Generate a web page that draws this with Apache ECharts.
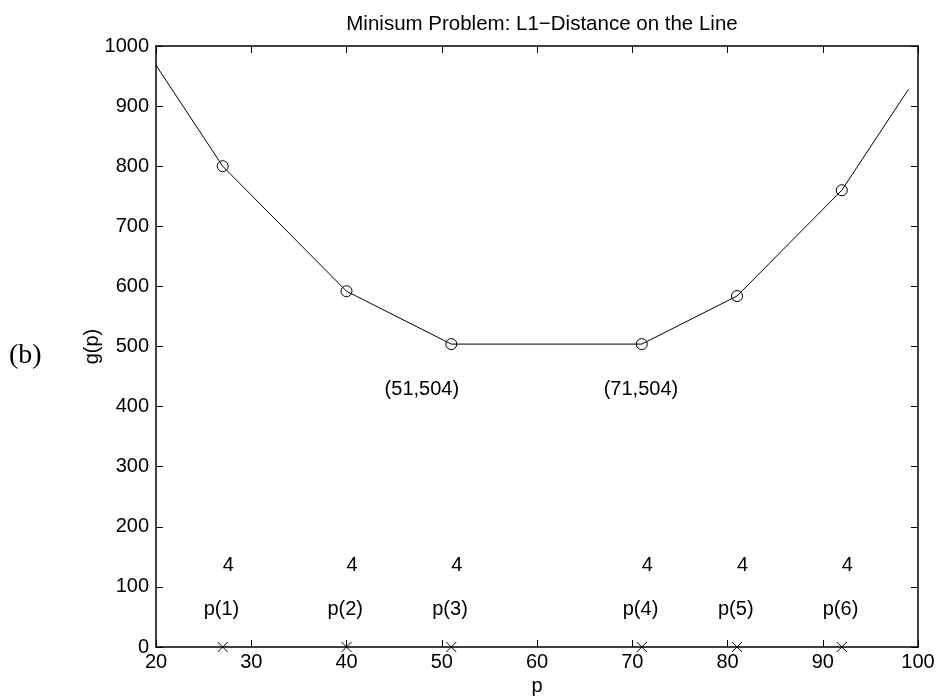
<!DOCTYPE html>
<html>
<head>
<meta charset="utf-8">
<script src="https://cdn.jsdelivr.net/npm/echarts@6/dist/echarts.min.js"></script>
<style>html,body{margin:0;padding:0;background:#fff}#c{width:938px;height:698px}</style>
</head>
<body>
<div id="c"></div>
<script>
// curve g(p) sampled at its breakpoints and the axis ends
const curveX = [20, 27, 40, 51, 71, 81, 92, 99];
const curveY = [968, 800, 592, 504, 504, 584, 760, 928];
// facility points and weights
const pointX = [27, 40, 51, 71, 81, 92];
const pointG = [800, 592, 504, 504, 584, 760];
const weights = [4, 4, 4, 4, 4, 4];
const pointNames = ['p(1)', 'p(2)', 'p(3)', 'p(4)', 'p(5)', 'p(6)'];
// annotation texts
const noteX = [44, 67];
const noteY = [429, 429];
const noteText = ['(51,504)', '(71,504)'];
const weightLabelY = 136;
const nameLabelY = 62;
const nameLabelOffset = -2;
const xTicks = [20, 30, 40, 50, 60, 70, 80, 90, 100];
const yTicks = [0, 100, 200, 300, 400, 500, 600, 700, 800, 900, 1000];

const FONT = 'Liberation Sans';
const FS = 20;
const chart = echarts.init(document.getElementById('c'), null, {renderer: 'canvas'});

const axisCommon = {
  axisLine: {show: true, onZero: false, lineStyle: {color: '#000', width: 1.5}},
  axisTick: {show: true, inside: true, length: 7, lineStyle: {color: '#000', width: 1}},
  splitLine: {show: false}
};

const textLabel = (fmt) => ({
  show: true, position: 'right', distance: 0, formatter: fmt,
  color: '#000', fontFamily: FONT, fontSize: FS
});

chart.setOption({
  animation: false,
  backgroundColor: '#fff',
  title: {
    text: 'Minisum Problem: L1\u2212Distance on the Line',
    left: 537, top: 9, textAlign: 'center',
    textStyle: {fontFamily: FONT, fontSize: 20.5, fontWeight: 'normal', color: '#000'}
  },
  grid: {left: 156, right: 20, top: 46, bottom: 51, containLabel: false, outerBoundsMode: 'none'},
  xAxis: [
    Object.assign({type: 'value', position: 'bottom', min: xTicks[0], max: xTicks[xTicks.length - 1], interval: 10,
      name: 'p', nameLocation: 'middle', nameGap: 29, nameMoveOverlap: false,
      nameTextStyle: {fontFamily: FONT, fontSize: FS, color: '#000'},
      axisLabel: {margin: 5, fontFamily: FONT, fontSize: FS, color: '#000', formatter: v => String(v)}}, axisCommon),
    Object.assign({type: 'value', position: 'top', min: xTicks[0], max: xTicks[xTicks.length - 1], interval: 10,
      axisLabel: {show: false}}, axisCommon)
  ],
  yAxis: [
    Object.assign({type: 'value', position: 'left', min: yTicks[0], max: yTicks[yTicks.length - 1], interval: 100,
      name: 'g(p)', nameLocation: 'middle', nameGap: 54, nameMoveOverlap: false,
      nameTextStyle: {fontFamily: FONT, fontSize: FS, color: '#000'},
      axisLabel: {margin: 7, fontFamily: FONT, fontSize: FS, color: '#000', formatter: v => String(v)}}, axisCommon),
    Object.assign({type: 'value', position: 'right', min: yTicks[0], max: yTicks[yTicks.length - 1], interval: 100,
      axisLabel: {show: false}}, axisCommon)
  ],
  graphic: [{
    type: 'text', left: 9, top: 342,
    style: {text: '(b)', fontFamily: 'Liberation Serif', fontSize: 28, fill: '#000'}
  }],
  series: [
    {
      type: 'line', data: curveX.map((x, i) => [x, curveY[i]]),
      symbol: 'none', lineStyle: {color: '#000', width: 1}, z: 2
    },
    {
      type: 'scatter', data: pointX.map((x, i) => [x, pointG[i]]),
      symbol: 'circle', symbolSize: 11,
      itemStyle: {color: 'rgba(0,0,0,0)', borderColor: '#000', borderWidth: 1, opacity: 1}, z: 3
    },
    {
      type: 'scatter', data: pointX.map(x => [x, 0]),
      symbol: 'path://M0,0L10,10M10,0L0,10', symbolSize: 10,
      itemStyle: {color: 'rgba(0,0,0,0)', borderColor: '#000', borderWidth: 1, opacity: 1}, z: 4
    },
    {
      type: 'scatter', data: pointX.map((x, i) => [x, weightLabelY, String(weights[i])]),
      symbolSize: 0, itemStyle: {opacity: 1}, label: textLabel(p => p.data[2])
    },
    {
      type: 'scatter', data: pointX.map((x, i) => [x + nameLabelOffset, nameLabelY, pointNames[i]]),
      symbolSize: 0, itemStyle: {opacity: 1}, label: textLabel(p => p.data[2])
    },
    {
      type: 'scatter', data: noteX.map((x, i) => [x, noteY[i], noteText[i]]),
      symbolSize: 0, itemStyle: {opacity: 1}, label: textLabel(p => p.data[2])
    }
  ]
});
</script>
</body>
</html>
